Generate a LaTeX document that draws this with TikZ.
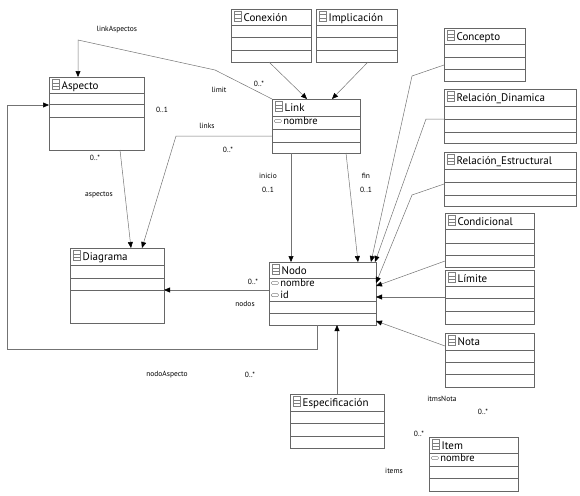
\documentclass[tikz,border=0pt]{standalone}
\usepackage{fontspec}
\setmainfont{PT Sans}
\usetikzlibrary{arrows.meta,calc,positioning}

% small icons in front of class names and attributes
\newcommand{\clsicon}{\tikz[baseline=-0.5pt]{\draw[black!50,line width=0.4pt] (0pt,0pt) rectangle (7pt,10pt) (0pt,3.3pt) -- (7pt,3.3pt) (0pt,6.7pt) -- (7pt,6.7pt);}}
\newcommand{\atticon}{\tikz[baseline=0pt]{\draw[black!50,line width=0.4pt,rounded corners=1pt] (0pt,1.5pt) rectangle (7pt,4.5pt);}}

% name, x, y, width, height, title, separator offsets
\newcommand{\umlclass}[7]{%
  \node[cls,minimum width=#4pt,minimum height=#5pt] (#1) at (#2,#3) {};
  \node[ttl] (#1-t) at (#1.north west) {\clsicon\hspace{2.5pt}#6};
  \foreach \d in {#7} \draw[sep] ([yshift=-\d pt]#1.north west) -- ([yshift=-\d pt]#1.north east);
}

\begin{document}
\begin{tikzpicture}[
  x=1pt, y=-1pt,
  cls/.style={draw=black!60,line width=0.6pt,anchor=north west,inner sep=0pt,outer sep=0pt},
  sep/.style={draw=black!60,line width=0.6pt},
  ttl/.style={anchor=north west,inner xsep=2.5pt,inner ysep=2pt,font=\fontsize{11}{12}\selectfont},
  attr/.style={anchor=north west,inner xsep=2pt,inner ysep=1.5pt,font=\fontsize{10.5}{11}\selectfont},
  lbl/.style={font=\fontsize{7.5}{9}\selectfont,inner sep=0pt},
  assoc/.style={draw=black!55,line width=0.5pt,-{Triangle[length=6pt,width=5pt,color=black]}}
]
\useasboundingbox (0,0) rectangle (580,495);

% classes
\umlclass{conexion}{231}{9}{80}{53}{Conexión}{16,28,41}
\umlclass{implicacion}{316}{9}{81}{53}{Implicación}{16,28,41}
\umlclass{concepto}{444}{28}{81}{53}{Concepto}{16,29,41}
\umlclass{dinamica}{444}{89}{132}{54}{Relación\_Dinamica}{17,30,43}
\umlclass{estructural}{444}{152}{132}{54}{Relación\_Estructural}{17,30,43}
\umlclass{link}{272}{99}{88}{54}{Link}{17,30,43}
\umlclass{aspecto}{49}{77}{95}{73}{Aspecto}{16,27,40}
\umlclass{diagrama}{70}{248}{94}{75}{Diagrama}{17,30,42}
\umlclass{nodo}{269}{262}{107}{63}{Nodo}{16,39,51}
\umlclass{condicional}{445}{213}{89}{54}{Condicional}{16,30,42}
\umlclass{limite}{445}{270}{89}{54}{Límite}{16,28,41}
\umlclass{nota}{445}{333}{89}{54}{Nota}{17,29,41}
\umlclass{espec}{290}{394}{94}{54}{Especificación}{17,29,42}
\umlclass{item}{429}{437}{89}{54}{Item}{16,29,41}

% attributes
\node[attr] (link-nombre) at ([yshift=-16pt]link.north west) {\atticon\,nombre};
\node[attr] (nodo-nombre) at ([yshift=-15pt]nodo.north west) {\atticon\,nombre};
\node[attr] (nodo-id) at ([yshift=-27pt]nodo.north west) {\atticon\,id};
\node[attr] (item-nombre) at ([yshift=-15pt]item.north west) {\atticon\,nombre};

% associations
\draw[assoc] ([xshift=38pt]conexion.south west) -- ([xshift=35pt]link.north west);
\draw[assoc] ([xshift=52pt]implicacion.south west) -- ([xshift=60pt]link.north west);
\draw[assoc] (link.north west) -- (215,70) -- (78,40) -- ([xshift=29pt]aspecto.north west);
\draw[assoc] ([yshift=-37pt]link.north west) -- (176,136) -- ([xshift=72pt]diagrama.north west);
\draw[assoc] ([xshift=71pt]aspecto.south west) -- ([xshift=61pt]diagrama.north west);
\draw[assoc] ([xshift=19pt]link.south west) -- ([xshift=22pt]nodo.north west);
\draw[assoc] ([xshift=74pt]link.south west) -- ([xshift=89pt]nodo.north west);
\draw[assoc] ([yshift=-37pt]concepto.north west) -- (412,76) -- ([xshift=102pt]nodo.north west);
\draw[assoc] ([yshift=-30pt]dinamica.north west) -- (426,119) -- ([xshift=-1pt]nodo.north east);
\draw[assoc] ([yshift=-32pt]estructural.north west) -- (412,195) -- ([yshift=-21pt]nodo.north east);
\draw[assoc] ([yshift=-48pt]condicional.north west) -- ([yshift=-24pt]nodo.north east);
\draw[assoc] ([yshift=-27pt]limite.north west) coordinate (l0) -- (l0 -| nodo.east);
\draw[assoc] ([yshift=-13pt]nota.north west) -- ([yshift=-59pt]nodo.north east);
\draw[assoc] ([yshift=-28pt]nodo.north west) coordinate (n0) -- (n0 -| diagrama.east);
\draw[assoc] ([xshift=48pt]nodo.south west) |- (7,349) |- ([yshift=-28pt]aspecto.north west);
\draw[assoc] ([xshift=47pt]espec.north west) coordinate (e0) -- (e0 |- nodo.south);

% role names and multiplicities
\node[lbl] (l-linkasp) at (117,30) {linkAspectos};
\node[lbl] (l-limit) at (219,90) {limit};
\node[lbl] (m-limit) at (259,84) {0..*};
\node[lbl] (m-asp1) at (162,110) {0..1};
\node[lbl] (l-links) at (207,126) {links};
\node[lbl] (m-links) at (228,150) {0..*};
\node[lbl] (m-asp2) at (95,158) {0..*};
\node[lbl] (l-aspectos) at (99,195) {aspectos};
\node[lbl] (l-inicio) at (268,176) {inicio};
\node[lbl] (m-inicio) at (268,190) {0..1};
\node[lbl] (l-fin) at (366,176) {fin};
\node[lbl] (m-fin) at (366,190) {0..1};
\node[lbl] (m-nodos) at (253,282) {0..*};
\node[lbl] (l-nodos) at (245,304) {nodos};
\node[lbl] (l-nodoasp) at (167,375) {nodoAspecto};
\node[lbl] (m-nodoasp) at (250,375) {0..*};
\node[lbl] (l-itmsnota) at (442,399) {itmsNota};
\node[lbl] (m-itmsnota) at (483,412) {0..*};
\node[lbl] (m-items) at (419,434) {0..*};
\node[lbl] (l-items) at (394,471) {items};
\end{tikzpicture}
\end{document}
